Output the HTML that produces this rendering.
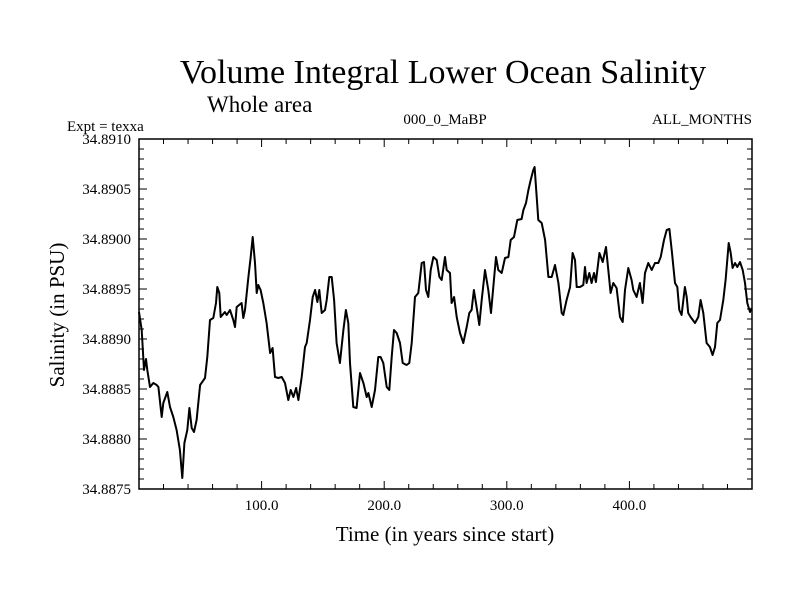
<!DOCTYPE html>
<html><head><meta charset="utf-8"><style>
html,body{margin:0;padding:0;background:#fff;}
svg text{font-family:"Liberation Serif",serif;fill:#000;}
</style></head><body>
<svg id="chart" width="800" height="600" xmlns="http://www.w3.org/2000/svg">
<rect width="800" height="600" fill="#fff"/>
<text x="443" y="83" font-size="34" text-anchor="middle">Volume Integral Lower Ocean Salinity</text>
<text x="207" y="112" font-size="23">Whole area</text>
<text x="67" y="131" font-size="15">Expt = texxa</text>
<text x="445" y="124" font-size="15" text-anchor="middle">000_0_MaBP</text>
<text x="752" y="124" font-size="15" text-anchor="end">ALL_MONTHS</text>
<text x="445" y="541" font-size="21" text-anchor="middle">Time (in years since start)</text>
<text x="0" y="0" font-size="21" text-anchor="middle" transform="translate(64,315) rotate(-90)">Salinity (in PSU)</text>
<g id="ticks"></g>
<g id="series"></g>
<rect x="139" y="139" width="613" height="350" fill="none" stroke="#000" stroke-width="1.5"/>
</svg>
<script>
const years = [0,2.2,4.1,5.7,6.8,9.0,11.7,14.4,15.8,18.5,19.8,23.1,25.3,28.0,30.7,33.4,35.3,37.0,39.4,41.1,43.0,44.9,47.0,49.8,53.8,55.7,57.9,60.6,62.8,63.9,65.5,66.6,70.1,71.5,74.2,76.9,78.3,79.7,83.7,85.1,86.5,89.2,91.1,92.7,94.6,96.0,97.3,99.2,101.4,104.1,106.9,109.0,110.9,113.6,116.4,119.1,121.8,123.7,125.9,128.1,130.0,132.7,135.4,136.8,139.5,141.7,143.6,145.5,147.1,149.0,151.7,153.1,155.2,157.2,159.1,161.2,163.9,166.7,168.8,170.7,172.1,174.8,177.5,180.3,183.0,185.7,187.1,189.8,192.5,195.2,197.1,199.3,202.0,204.2,206.1,208.0,210.2,212.9,215.1,218.3,220.5,222.4,225.1,227.8,230.6,232.5,234.1,236.0,237.9,240.1,242.8,245.0,246.9,249.6,251.0,253.7,255.0,257.0,259.1,261.8,264.5,267.3,269.4,271.3,273.2,275.4,277.6,279.5,282.2,284.9,287.1,289.0,291.2,293.1,295.8,298.5,301.3,303.2,305.9,308.6,312.1,313.5,315.7,317.6,319.5,321.6,322.7,324.4,325.7,328.5,331.2,333.9,336.6,339.3,342.1,344.8,346.1,348.8,351.6,353.7,355.6,357.0,359.7,362.4,363.8,365.1,367.3,369.2,371.1,372.7,375.5,378.2,380.9,382.8,384.7,386.9,389.6,392.3,394.5,396.4,399.1,401.8,403.2,405.9,408.6,410.8,412.7,415.4,418.2,420.9,423.6,425.5,428.2,430.4,432.6,434.5,437.2,439.1,440.7,442.6,445.3,446.7,448.0,449.9,453.5,456.2,458.1,460.3,463.0,465.7,467.9,469.8,471.7,473.9,476.6,478.5,481.0,482.6,484.2,486.1,488.0,490.2,492.4,494.3,496.2,498.4,499.7];
const salinity = [34.88927,34.88909,34.88869,34.88880,34.88869,34.88852,34.88856,34.88854,34.88852,34.88822,34.88836,34.88847,34.88832,34.88822,34.88809,34.88789,34.88761,34.88796,34.88809,34.88831,34.88811,34.88807,34.88819,34.88854,34.88861,34.88882,34.88919,34.88921,34.88936,34.88952,34.88946,34.88922,34.88927,34.88924,34.88929,34.88919,34.88912,34.88932,34.88936,34.88921,34.88929,34.88962,34.88982,34.89002,34.88976,34.88946,34.88954,34.88949,34.88936,34.88916,34.88886,34.88891,34.88862,34.88861,34.88862,34.88856,34.88839,34.88849,34.88842,34.88851,34.88839,34.88862,34.88892,34.88896,34.88919,34.88942,34.88949,34.88937,34.88949,34.88926,34.88929,34.88939,34.88962,34.88962,34.88939,34.88896,34.88876,34.88909,34.88929,34.88916,34.88876,34.88832,34.88831,34.88866,34.88856,34.88842,34.88846,34.88832,34.88849,34.88882,34.88882,34.88876,34.88852,34.88849,34.88882,34.88909,34.88906,34.88896,34.88876,34.88874,34.88876,34.88896,34.88942,34.88946,34.88976,34.88977,34.88949,34.88942,34.88969,34.88982,34.88979,34.88962,34.88959,34.88982,34.88969,34.88966,34.88936,34.88942,34.88922,34.88906,34.88896,34.88912,34.88926,34.88929,34.88949,34.88932,34.88914,34.88939,34.88969,34.88949,34.88926,34.88952,34.88982,34.88969,34.88966,34.88981,34.88982,34.88999,34.89002,34.89019,34.89020,34.89029,34.89036,34.89049,34.89059,34.89069,34.89072,34.89042,34.89019,34.89016,34.88999,34.88962,34.88962,34.88974,34.88956,34.88926,34.88924,34.88939,34.88952,34.88986,34.88979,34.88952,34.88952,34.88954,34.88972,34.88956,34.88966,34.88956,34.88966,34.88957,34.88986,34.88977,34.88992,34.88969,34.88946,34.88956,34.88951,34.88922,34.88917,34.88949,34.88971,34.88959,34.88949,34.88942,34.88956,34.88936,34.88966,34.88976,34.88969,34.88976,34.88976,34.88982,34.88999,34.89009,34.89010,34.88989,34.88956,34.88952,34.88929,34.88924,34.88952,34.88942,34.88926,34.88922,34.88916,34.88922,34.88939,34.88926,34.88896,34.88892,34.88884,34.88892,34.88916,34.88919,34.88939,34.88959,34.88996,34.88986,34.88971,34.88976,34.88972,34.88977,34.88969,34.88956,34.88936,34.88927,34.88931];
const xTickValues = [100,200,300,400];
const xTickLabels = ["100.0","200.0","300.0","400.0"];
const yTickValues = [34.8875,34.8880,34.8885,34.8890,34.8895,34.8900,34.8905,34.8910];
const yTickLabels = ["34.8875","34.8880","34.8885","34.8890","34.8895","34.8900","34.8905","34.8910"];

const X0=139,X1=752,Y0=489,Y1=139;
const xMin=0,xMax=500,yMin=34.8875,yMax=34.8910;
function xs(v){return X0+(v-xMin)/(xMax-xMin)*(X1-X0);}
function ys(v){return Y0-(v-yMin)/(yMax-yMin)*(Y0-Y1);}
const NS="http://www.w3.org/2000/svg";
const tg=document.getElementById('ticks');
function line(x1,y1,x2,y2,name){
  const l=document.createElementNS(NS,'line');
  l.setAttribute('x1',x1);l.setAttribute('y1',y1);l.setAttribute('x2',x2);l.setAttribute('y2',y2);
  l.setAttribute('stroke','#000');l.setAttribute('stroke-width','1');
  
  
  tg.appendChild(l);
}
function text(x,y,s,anchor,name){
  const t=document.createElementNS(NS,'text');
  t.setAttribute('x',x);t.setAttribute('y',y);t.setAttribute('font-size','15');t.setAttribute('text-anchor',anchor);
  t.textContent=s;
  
  
  tg.appendChild(t);
}
for(let v=20;v<500;v+=20){
  const major=v%100===0;const L=major?8:5;const x=xs(v);
  line(x,Y0,x,Y0-L,'x-tick');
  line(x,Y1,x,Y1+L,'x-tick-top');
}
for(let i=1;i<35;i++){
  const v=yMin+i*0.0001;const major=i%5===0;const L=major?8:5;const y=ys(v);
  line(X0,y,X0+L,y,'y-tick');
  line(X1,y,X1-L,y,'y-tick-right');
}
xTickValues.forEach((v,i)=>text(xs(v),510,xTickLabels[i],'middle','x-tick-label'));
yTickValues.forEach((v,i)=>text(131,ys(v)+5,yTickLabels[i],'end','y-tick-label'));
const p=document.createElementNS(NS,'path');
p.setAttribute('d',years.map((yr,i)=>(i?'L':'M')+xs(yr).toFixed(1)+','+ys(salinity[i]).toFixed(1)).join(''));
p.setAttribute('fill','none');p.setAttribute('stroke','#000');p.setAttribute('stroke-width','2');p.setAttribute('stroke-linejoin','round');


document.getElementById('series').appendChild(p);
</script>
</body></html>
